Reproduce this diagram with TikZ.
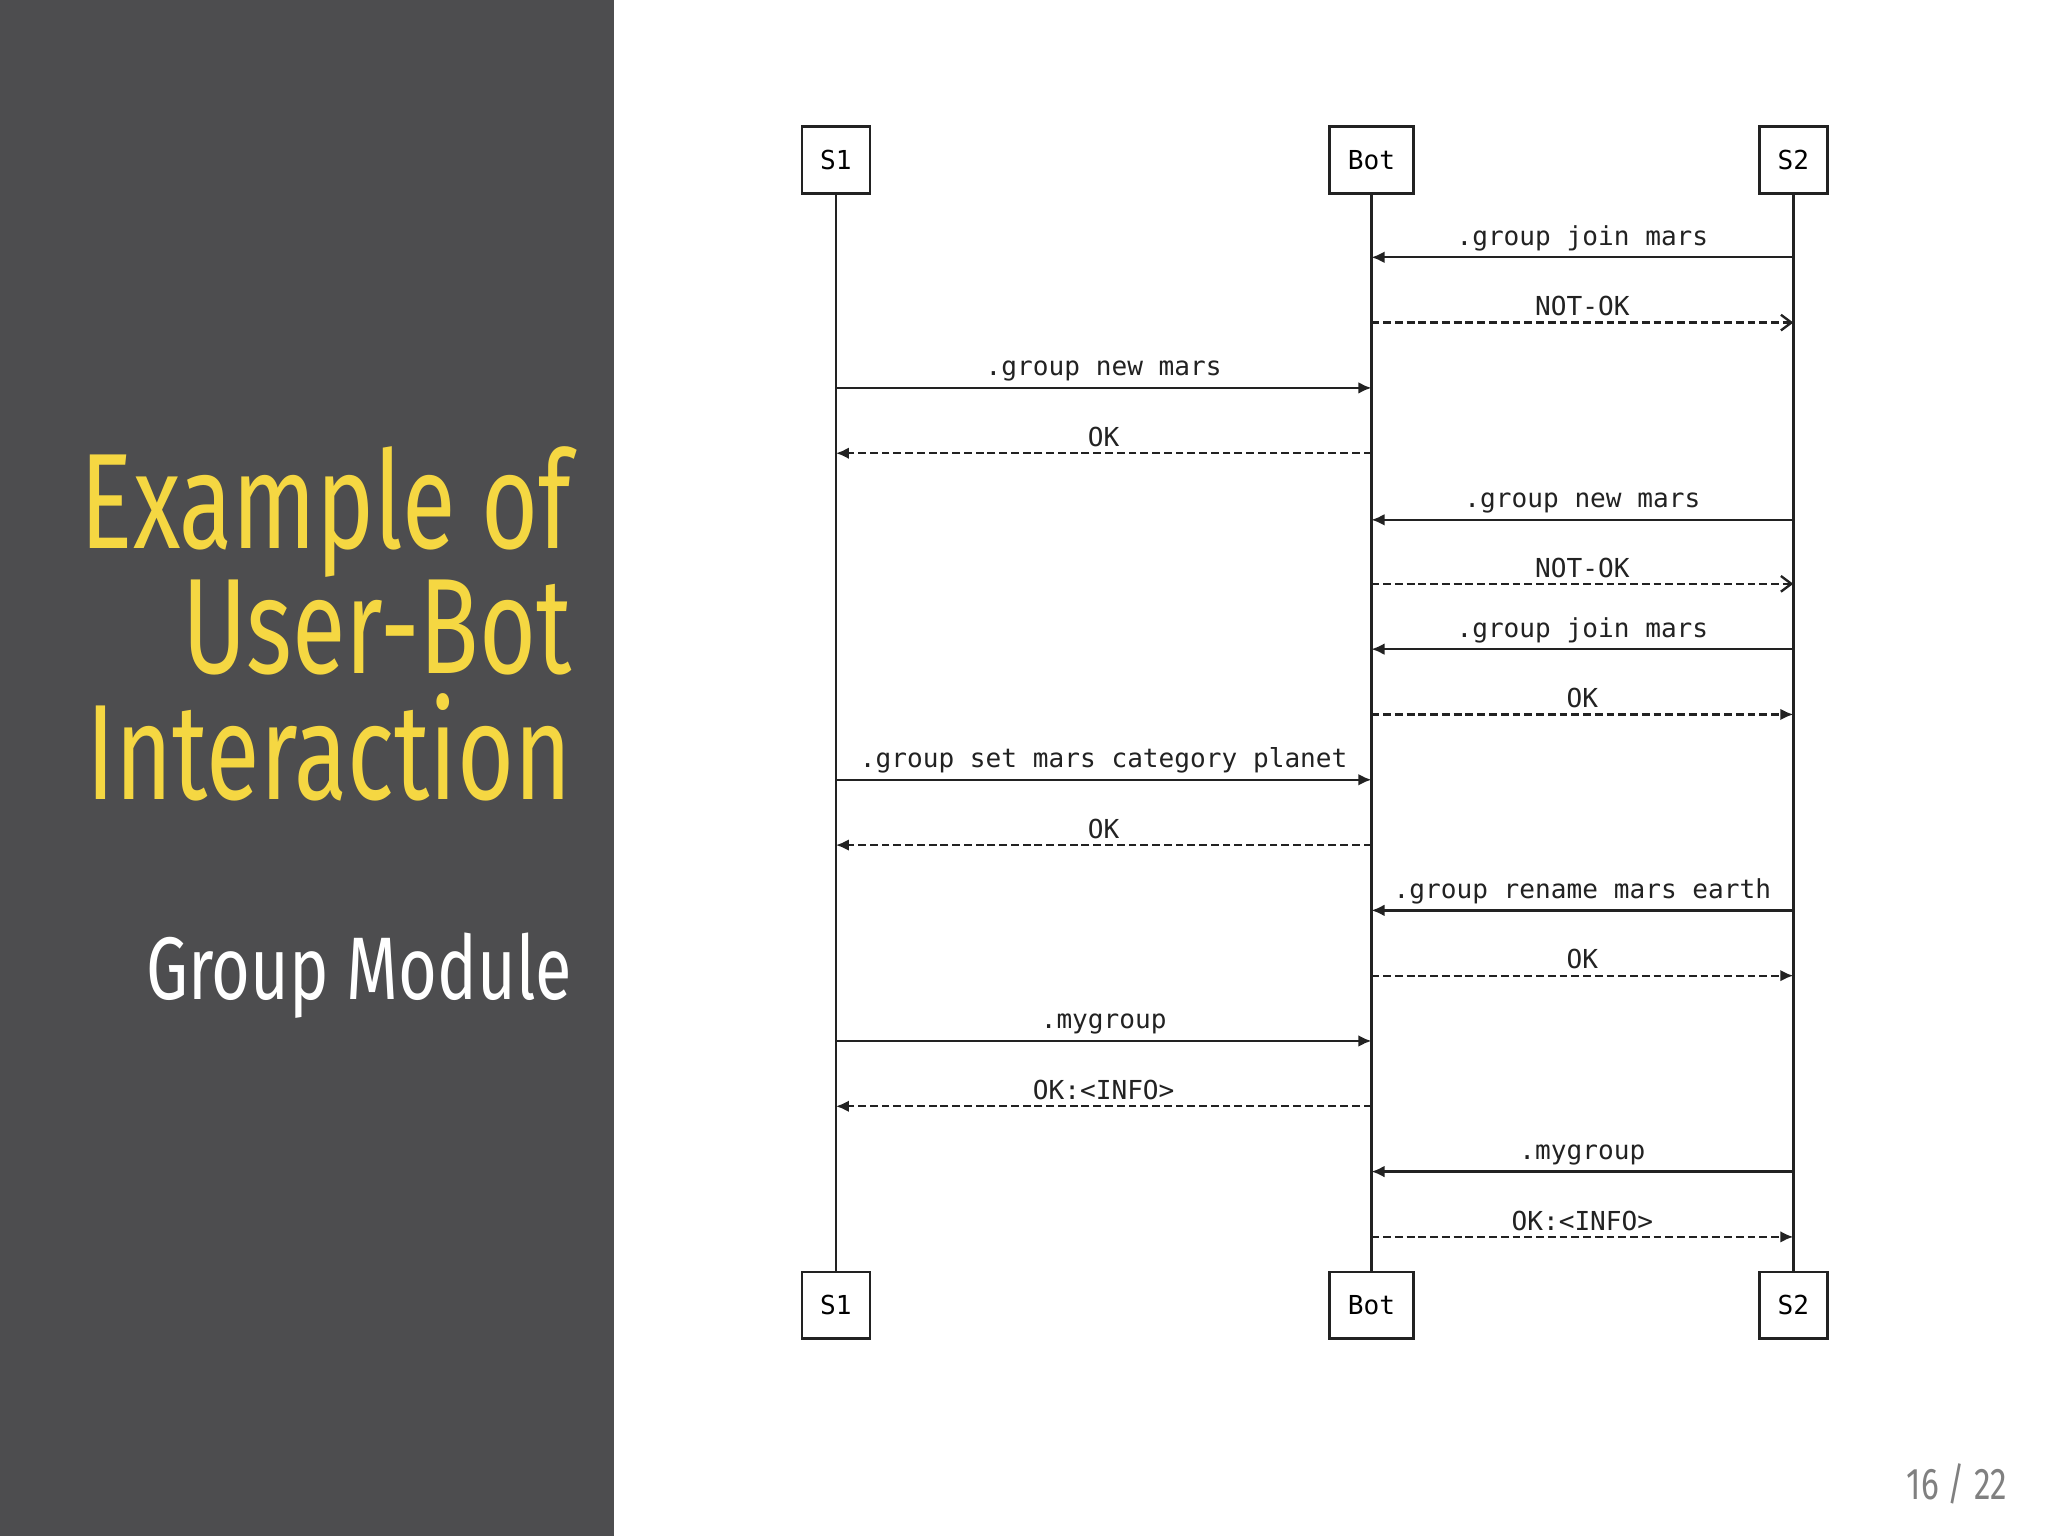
\documentclass[tikz,border=0pt]{standalone}
\usepackage{fontspec}
\setmainfont{Fira Sans}
\newfontfamily\mono{DejaVu Sans Mono}
\usetikzlibrary{arrows.meta,calc}
\definecolor{panel}{HTML}{4D4D4F}
\definecolor{ttl}{HTML}{F5D742}
\definecolor{ln}{HTML}{222222}
\tikzset{
 actor/.style={draw=ln,line width=1pt,minimum width=26pt,minimum height=25.5pt,inner sep=0pt,font=\mono\fontsize{10}{12}\selectfont,fill=white},
 life/.style={draw=ln,line width=1pt},
 req/.style={draw=ln,line width=0.9pt,-{Latex[length=5pt,width=4.5pt]}},
 rep/.style={draw=ln,line width=0.9pt,dash pattern=on 3pt off 1.5pt,-{Latex[length=5pt,width=4.5pt]}},
 nok/.style={draw=ln,line width=0.9pt,dash pattern=on 3pt off 1.5pt,-{Straight Barb[length=4pt,width=6pt]}},
 lbl/.style={above=1pt,font=\mono\fontsize{10}{12}\selectfont,text=ln,inner sep=1pt},
}
\begin{document}
\begin{tikzpicture}[x=0.5pt,y=-0.5pt]
\useasboundingbox (0,0) rectangle (1568,1176);
\fill[white!97!blue!40!white,fill=white] (0,0) rectangle (1568,1176);
\fill[panel] (0,0) rectangle (470,1176);
\node[anchor=base east,text=ttl,inner sep=0pt] (t1) at (438,420) {\scalebox{0.72}[1]{\fontsize{52}{52}\selectfont Example of}};
\node[anchor=base east,text=ttl,inner sep=0pt] (t2) at (438,516) {\scalebox{0.72}[1]{\fontsize{52}{52}\selectfont User-Bot}};
\node[anchor=base east,text=ttl,inner sep=0pt] (t3) at (438,612) {\scalebox{0.72}[1]{\fontsize{52}{52}\selectfont Interaction}};
\node[anchor=base east,text=white,inner sep=0pt] (sub) at (438,765) {\scalebox{0.75}[1]{\fontsize{34}{34}\selectfont\addfontfeature{FakeBold=0} Group Module}};
\node[anchor=base east,text=gray,inner sep=0pt] (pg) at (1537,1148) {\scalebox{0.75}[1]{\fontsize{17}{17}\selectfont 16 / 22}};
% actors
\node[actor] (a1) at (640,122.5) {S1};
\node[actor,minimum width=32pt] (b1) at (1050,122.5) {Bot};
\node[actor] (c1) at (1373,122.5) {S2};
\node[actor] (a2) at (640,999.5) {S1};
\node[actor,minimum width=32pt] (b2) at (1050,999.5) {Bot};
\node[actor] (c2) at (1373,999.5) {S2};
\draw[life] (a1) -- (a2);
\draw[life] (b1) -- (b2);
\draw[life] (c1) -- (c2);
% messages
\draw[req] (c1 |- 0,197) -- node[lbl]{.group join mars} (b1 |- 0,197);
\draw[nok] (b1 |- 0,247) -- node[lbl]{NOT-OK} (c1 |- 0,247);
\draw[req] (a1 |- 0,297) -- node[lbl]{.group new mars} (b1 |- 0,297);
\draw[rep] (b1 |- 0,347) -- node[lbl]{OK} (a1 |- 0,347);
\draw[req] (c1 |- 0,398) -- node[lbl]{.group new mars} (b1 |- 0,398);
\draw[nok] (b1 |- 0,447) -- node[lbl]{NOT-OK} (c1 |- 0,447);
\draw[req] (c1 |- 0,497) -- node[lbl]{.group join mars} (b1 |- 0,497);
\draw[rep] (b1 |- 0,547) -- node[lbl]{OK} (c1 |- 0,547);
\draw[req] (a1 |- 0,597) -- node[lbl]{.group set mars category planet} (b1 |- 0,597);
\draw[rep] (b1 |- 0,647) -- node[lbl]{OK} (a1 |- 0,647);
\draw[req] (c1 |- 0,697) -- node[lbl]{.group rename mars earth} (b1 |- 0,697);
\draw[rep] (b1 |- 0,747) -- node[lbl]{OK} (c1 |- 0,747);
\draw[req] (a1 |- 0,797) -- node[lbl]{.mygroup} (b1 |- 0,797);
\draw[rep] (b1 |- 0,847) -- node[lbl]{OK:<INFO>} (a1 |- 0,847);
\draw[req] (c1 |- 0,897) -- node[lbl]{.mygroup} (b1 |- 0,897);
\draw[rep] (b1 |- 0,947) -- node[lbl]{OK:<INFO>} (c1 |- 0,947);
\end{tikzpicture}
\end{document}
